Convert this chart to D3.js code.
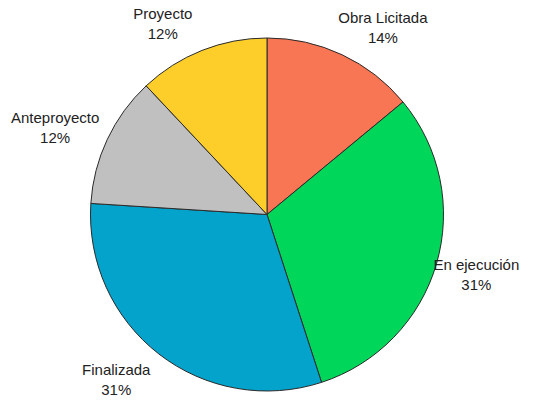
<!DOCTYPE html>
<html>
<head>
<meta charset="utf-8">
<script src="https://cdn.jsdelivr.net/npm/d3@7"></script>
<style>
  body { margin: 0; background: #fff; }
  svg { display: block; }
</style>
</head>
<body>
<div id="chart"></div>
<script>
const categories = ['Obra Licitada', 'En ejecución', 'Finalizada', 'Anteproyecto', 'Proyecto']
const values = [14, 31, 31, 12, 12]
const colors = ['#F97655', '#00D65A', '#03A3CB', '#C0C0C0', '#FDCE2A']

// label placement nudges (degrees off the slice mid-angle, distance from centre)
const labelNudge = [6.6, 0, 4.5, -2.9, -7.1]
const labelDist = [220, 218, 224, 229, 217]

const width = 534
const height = 401
const cx = 267
const cy = 214.5
const radius = 176.5

const svg = d3
  .select('#chart')
  .append('svg')
  .attr('width', width)
  .attr('height', height)

const g = svg.append('g').attr('transform', `translate(${cx},${cy})`)

const data = categories.map((c, i) => ({ name: c, value: values[i], i: i }))

const pie = d3
  .pie()
  .sort(null)
  .value(d => d.value)

const arc = d3
  .arc()
  .innerRadius(0)
  .outerRadius(radius)

const arcs = pie(data)

g.selectAll('path')
  .data(arcs)
  .enter()
  .append('path')
  .attr('d', arc)
  .attr('fill', d => colors[d.data.i])
  .attr('stroke', '#2a2a2a')
  .attr('stroke-width', 1)
  .attr('stroke-linejoin', 'round')

const total = d3.sum(values)

const labels = g
  .selectAll('.label')
  .data(arcs)
  .enter()
  .append('text')
  .attr('class', 'label')
  .attr('transform', function(d) {
    const mid = (d.startAngle + d.endAngle) / 2 + (labelNudge[d.data.i] * Math.PI) / 180
    const r = labelDist[d.data.i]
    const la = d3.arc().innerRadius(r).outerRadius(r)
    const p = la.centroid({ startAngle: mid, endAngle: mid })
    return `translate(${p})`
  })
  .attr('text-anchor', 'middle')
  .attr('font-family', 'Liberation Sans, Arial, sans-serif')
  .attr('font-size', 15)
  .attr('fill', '#222')

labels
  .append('tspan')
  .attr('x', 0)
  .attr('y', -5)
  .text(d => d.data.name)

labels
  .append('tspan')
  .attr('x', 0)
  .attr('y', 15)
  .text(d => Math.round((d.data.value / total) * 100) + '%')
</script>
</body>
</html>
